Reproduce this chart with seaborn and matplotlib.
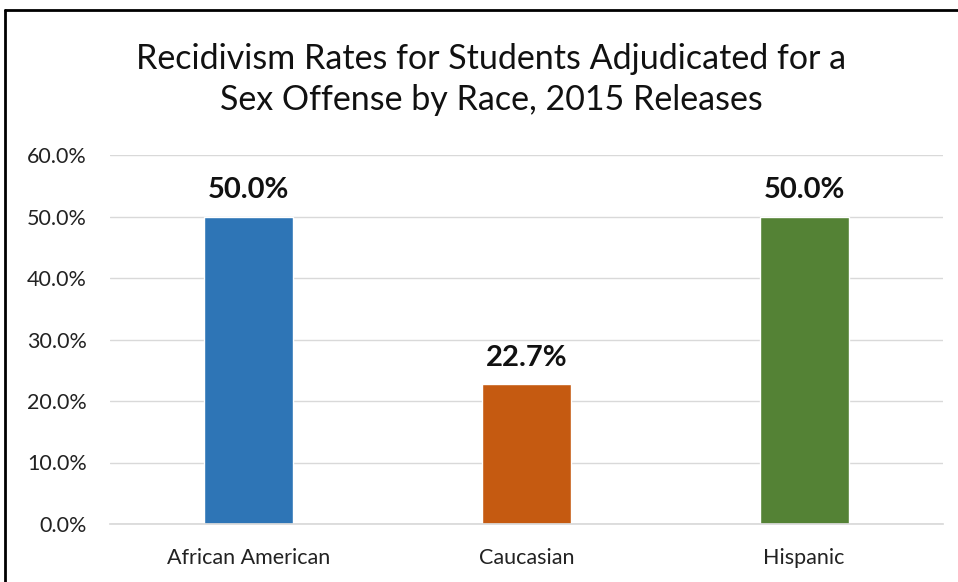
import matplotlib
matplotlib.use("Agg")
import matplotlib.pyplot as plt
import seaborn as sns
import pandas as pd
from matplotlib.lines import Line2D
from matplotlib.ticker import FuncFormatter

categories = ["African American", "Caucasian", "Hispanic"]
rates = [50.0, 22.7, 50.0]
colors = ["#2E75B6", "#C55A11", "#548235"]
title = "Recidivism Rates for Students Adjudicated for a\nSex Offense by Race, 2015 Releases"

sns.set_theme(style="white")
plt.rcParams['font.family'] = ['Lato', 'DejaVu Sans']

df = pd.DataFrame({"Race": categories, "Rate": rates})

fig = plt.figure(figsize=(9.58, 5.82), dpi=100)
ax = fig.add_axes([110/958, 1-524/582, 833/958, (524-155)/582])
sns.barplot(data=df, x="Race", y="Rate", hue="Race", palette=colors,
            width=0.32, ax=ax, legend=False, saturation=1)

ax.set_ylim(0, 60)
ax.set_xlim(-0.5, 2.5)
ax.set_yticks([0, 10, 20, 30, 40, 50, 60])
ax.yaxis.set_major_formatter(FuncFormatter(lambda v, p: f"{v:.1f}%"))
ax.grid(axis="y", color="#d9d9d9", linewidth=1)
ax.set_axisbelow(True)
for s in ["top", "right", "left"]:
    ax.spines[s].set_visible(False)
ax.spines["bottom"].set_color("#d9d9d9")
ax.set_xlabel("")
ax.set_ylabel("")
ax.tick_params(axis="y", labelsize=15.5, colors="#222222", pad=16.5, length=0)
ax.tick_params(axis="x", labelsize=15.5, colors="#222222", pad=17, length=0)

for i, v in enumerate(rates):
    ax.text(i, v + 2.2, f"{v:.1f}%", ha="center", va="bottom",
            fontsize=21, fontweight="bold", color="#111111")

fig.text(491/958, 1-79.5/582, title, ha="center", va="center",
         fontsize=24.5, color="#111111", linespacing=1.38)

fig.add_artist(Line2D([5/958, 1.01], [1-10/582, 1-10/582], transform=fig.transFigure,
                      color="black", linewidth=2))
fig.add_artist(Line2D([5/958, 5/958], [1-10/582, -0.01], transform=fig.transFigure,
                      color="black", linewidth=2))

fig.savefig("out.png", dpi=100)
